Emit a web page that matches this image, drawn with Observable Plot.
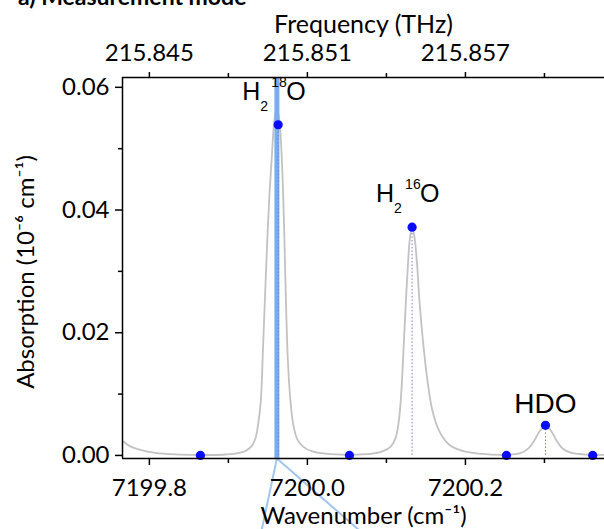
<!DOCTYPE html>
<html><head><meta charset="utf-8">
<script src="https://cdn.jsdelivr.net/npm/d3@7"></script>
<script src="https://cdn.jsdelivr.net/npm/@observablehq/plot@0.6"></script>
<style>
body{margin:0;background:#fff;}
#wrap{position:relative;width:604px;height:529px;overflow:hidden;}
#title{position:absolute;left:18px;top:-15px;font-family:Lato;font-weight:700;font-size:23px;line-height:23px;white-space:nowrap;z-index:2;color:#000;}
#wrap svg{position:absolute;left:0;top:0;}
</style></head><body>
<div id="wrap"><div id="title">a) Measurement mode</div></div>
<script>
// ---- data ----
const curveWn = [7199.7671,7199.7759,7199.7886,7199.8076,7199.8329,7199.8646,7199.8924,7199.9101,7199.9215,7199.9291,7199.9342,7199.9380,7199.9411,7199.9437,7199.9462,7199.9487,7199.9519,7199.9551,7199.9582,7199.9614,7199.9646,7199.9677,7199.9703,7199.9728,7199.9753,7199.9785,7199.9823,7199.9873,7199.9949,7200.0063,7200.0228,7200.0532,7200.0797,7200.0949,7200.1051,7200.1114,7200.1158,7200.1190,7200.1222,7200.1247,7200.1272,7200.1297,7200.1325,7200.1354,7200.1386,7200.1418,7200.1462,7200.1519,7200.1582,7200.1671,7200.1785,7200.1962,7200.2215,7200.2519,7200.2696,7200.2797,7200.2873,7200.2937,7200.3013,7200.3089,7200.3152,7200.3228,7200.3342,7200.3582,7200.3785];
const curveAbs = [0.00228,0.00147,0.00090,0.00041,0.00016,0.00007,0.00011,0.00033,0.00073,0.00147,0.00277,0.00538,0.00897,0.01711,0.02527,0.03341,0.04238,0.04890,0.05460,0.05656,0.05460,0.04808,0.03830,0.02527,0.01548,0.00897,0.00489,0.00261,0.00139,0.00065,0.00028,0.00011,0.00024,0.00065,0.00139,0.00277,0.00571,0.01059,0.01874,0.02527,0.03097,0.03537,0.03716,0.03570,0.03146,0.02527,0.01874,0.01222,0.00733,0.00391,0.00187,0.00073,0.00024,0.00011,0.00036,0.00114,0.00245,0.00391,0.00481,0.00391,0.00245,0.00114,0.00041,0.00011,0.00008];
const sampleWn = [7199.8646,7199.9630,7200.0532,7200.1325,7200.2519,7200.3013,7200.3611];
const sampleAbs = [0,0.0539,0,0.0372,0,0.0049,0];
const peakIndex = [1,3,5];
const peakIso = ["18","16",""];
const peakName = ["H₂¹⁸O","H₂¹⁶O","HDO"];
const laserWn = 7199.9614;
const linkWn = [7199.9399,7199.9614,7200.0772];
const linkAbs = [-0.0135,-0.0005,-0.0135];
const xTicks = [7199.8,7200.0,7200.2];
const xMinor = [7199.9,7200.1,7200.3];
const yTicks = [0,0.02,0.04,0.06];
const yMinor = [0.01,0.03,0.05];
const xDomain = [7199.766,7200.376];
const yDomain = [-0.0005,0.0616];
const THZ_PER_WN = 0.0299792458;

// ---- tables ----
const curve = curveWn.map((x,i)=>({x, y:curveAbs[i]}));
const samples = sampleWn.map((x,i)=>({x, y:sampleAbs[i]}));
const peaks = peakIndex.map((k,i)=>({x:sampleWn[k], y:sampleAbs[k], iso:peakIso[i], name:peakName[i]}));
const water = peaks.filter(d=>d.iso);
const hdo = peaks.filter(d=>!d.iso);
const link = linkWn.map((x,i)=>({x, y:linkAbs[i]}));
const fmtX = d3.format(".1f");
const fmtF = d => d3.format(".3f")(d*THZ_PER_WN);

const labFont = "Liberation Sans, Arial, sans-serif";
const plot = Plot.plot({
  width: 604, height: 529,
  marginLeft: 122, marginRight: 0, marginTop: 77, marginBottom: 71,
  x: {domain: xDomain, axis: null},
  y: {domain: yDomain, axis: null},
  style: {fontFamily: "Lato", fontSize: "24px", color: "#000", background: "transparent", overflow: "visible"},
  marks: [
    Plot.line(curve, {x:"x", y:"y", stroke:"#c2c2c2", strokeWidth:1.8, curve:"catmull-rom", clip:true}),
    Plot.ruleX([laserWn], {stroke:"#78aef0", strokeWidth:5}),
    Plot.line(link, {x:"x", y:"y", stroke:"#a2c6f2", strokeWidth:2}),
    Plot.ruleX(peaks, {x:"x", y1:0, y2:"y", stroke:"#7a7ae0", strokeWidth:1, strokeDasharray:"1.5,2"}),
    Plot.dot(samples, {x:"x", y:"y", r:4.6, fill:"#0a0aff", stroke:"none"}),
    // water labels H2 xx O
    Plot.text(water, {x:"x", y:"y", text:()=>"H", textAnchor:"start", lineAnchor:"bottom", dx:-36, dy:-25, fontFamily:labFont, fontSize:25}),
    Plot.text(water, {x:"x", y:"y", text:()=>"2", textAnchor:"start", lineAnchor:"bottom", dx:-18, dy:-14, fontFamily:labFont, fontSize:14}),
    Plot.text(water, {x:"x", y:"y", text:"iso", textAnchor:"start", lineAnchor:"bottom", dx:-7, dy:-38, fontFamily:labFont, fontSize:14}),
    Plot.text(water, {x:"x", y:"y", text:()=>"O", textAnchor:"start", lineAnchor:"bottom", dx:8, dy:-25, fontFamily:labFont, fontSize:25}),
    Plot.text(hdo, {x:"x", y:"y", text:"name", textAnchor:"middle", lineAnchor:"bottom", dy:-12, fontFamily:labFont, fontSize:28}),
    // axes
    Plot.axisY(yTicks, {tickSize:7, tickPadding:6, tickFormat:d3.format(".2f"), label:null, strokeWidth:1.5, fontSize:24}),
    Plot.axisY(yMinor, {tickSize:4, tickFormat:()=>"", label:null, strokeWidth:1.5}),
    Plot.axisX(xTicks, {anchor:"bottom", tickSize:7, tickFormat:()=>"", label:null, strokeWidth:1.5}),
    Plot.axisX(xMinor, {anchor:"bottom", tickSize:5, tickFormat:()=>"", label:null, strokeWidth:1.5}),
    Plot.axisX(xTicks, {anchor:"top", tickSize:6, tickFormat:()=>"", label:null, strokeWidth:1.5}),
    Plot.axisX(xMinor, {anchor:"top", tickSize:5, tickFormat:()=>"", label:null, strokeWidth:1.5}),
    Plot.text(xTicks, {x:d=>d, text:fmtX, frameAnchor:"bottom", textAnchor:"middle", lineAnchor:"top", dy:20, fontSize:24}),
    Plot.text(xTicks, {x:d=>d, text:fmtF, frameAnchor:"top", textAnchor:"middle", lineAnchor:"bottom", dy:-17, fontSize:24}),
    Plot.ruleX([xDomain[0]], {stroke:"#000", strokeWidth:1.5}),
    Plot.ruleY([yDomain[0]], {stroke:"#000", strokeWidth:1.5}),
    Plot.ruleY([yDomain[1]], {stroke:"#000", strokeWidth:1.5}),
    // axis titles
    Plot.text(["Frequency (THz)"], {frameAnchor:"top", textAnchor:"middle", lineAnchor:"bottom", dy:-45, fontSize:25}),
    Plot.text(["Wavenumber (cm⁻¹)"], {frameAnchor:"bottom", textAnchor:"middle", lineAnchor:"bottom", dy:65, fontSize:24}),
    Plot.text(["Absorption (10⁻⁶ cm⁻¹)"], {frameAnchor:"left", textAnchor:"middle", lineAnchor:"bottom", rotate:-90, dx:-89, dy:4, fontSize:24})
  ]
});
document.getElementById("wrap").appendChild(plot);
</script>
</body></html>
